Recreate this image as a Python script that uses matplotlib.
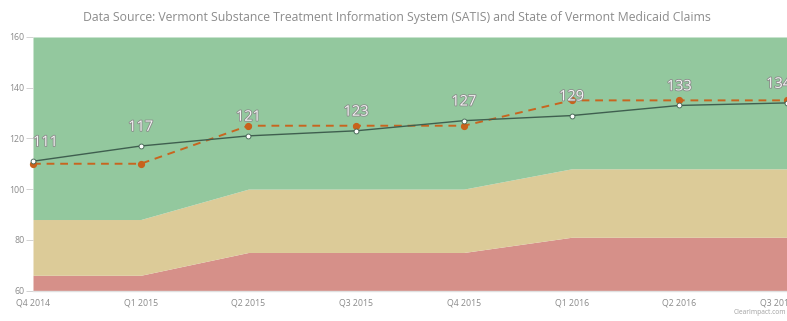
import matplotlib
matplotlib.use("Agg")
import matplotlib.pyplot as plt
import matplotlib.patheffects as pe
import matplotlib.transforms as mtransforms
import numpy as np

plt.rcParams['font.family'] = ['Open Sans', 'DejaVu Sans']

quarters = ["Q4 2014", "Q1 2015", "Q2 2015", "Q3 2015", "Q4 2015", "Q1 2016", "Q2 2016", "Q3 2016"]
actual = [111, 117, 121, 123, 127, 129, 133, 134]
target = [110, 110, 125, 125, 125, 135, 135, 135]
red_top = [66, 66, 75, 75, 75, 81, 81, 81]
yellow_top = [88, 88, 100, 100, 100, 108, 108, 108]
green_top = [160] * 8
y_ticks = [60, 80, 100, 120, 140, 160]
title = "Data Source: Vermont Substance Treatment Information System (SATIS) and State of Vermont Medicaid Claims"

W, H = 787, 321
fig = plt.figure(figsize=(W / 100, H / 100), dpi=100)
ax = fig.add_axes([33 / W, 1 - 290.5 / H, (787 - 33) / W, (290.5 - 37) / H])

x = np.arange(len(quarters))
base = [60] * len(quarters)
ax.fill_between(x, base, red_top, color="#d69089", lw=0)
ax.fill_between(x, red_top, yellow_top, color="#dccb98", lw=0)
ax.fill_between(x, yellow_top, green_top, color="#93c89e", lw=0)

ax.plot(x, target, color="#c8651f", lw=1.4, ls=(0, (4, 3)), marker="o", ms=4.2,
        mfc="#c8621c", mec="#c8621c", zorder=3, clip_on=False)
ax.plot(x, actual, color="#3f5f4f", lw=1.0, marker="o", ms=3.5,
        mfc="white", mec="#3f5f4f", mew=0.6, zorder=4, clip_on=False)

last = len(actual) - 1
for i, (xi, v) in enumerate(zip(x, actual)):
    dx = 9 if i == 0 else (-6 if i == last else 0)
    t = ax.annotate(str(v), (xi, v), xytext=(dx, 8), textcoords="offset points",
                    ha="center", va="bottom", fontsize=10.5, color="#f4f4f4",
                    clip_on=False, zorder=5)
    t.set_path_effects([pe.withStroke(linewidth=1.2, foreground="#8a8a8a")])

ax.set_xlim(0, len(quarters) - 1)
ax.set_ylim(60, 160)
ax.set_yticks(y_ticks)
ax.set_yticklabels([str(v) for v in y_ticks])
ax.set_xticks(x)
ax.set_xticklabels(quarters)
ax.tick_params(axis="y", length=5, width=0.6, color="#cccccc", labelsize=6.3,
               labelcolor="#8a8a8a", pad=1)
ax.tick_params(axis="x", length=0, labelsize=6.3, labelcolor="#8a8a8a", pad=6)
xlabels = ax.get_xticklabels()
for lbl in xlabels:
    lbl.set_clip_on(False)
shift = mtransforms.ScaledTranslation(-0.1, 0, fig.dpi_scale_trans)
xlabels[-1].set_transform(xlabels[-1].get_transform() + shift)

for s in ["top", "right", "left"]:
    ax.spines[s].set_visible(False)
ax.spines["bottom"].set_color("#e0e0e0")
ax.spines["bottom"].set_linewidth(1.0)

fig.text(397 / W, 1 - 17 / H, title, ha="center", va="center", fontsize=8.8,
         color="#8c8c8c")
fig.text(786 / W, 1 - 313 / H, "ClearImpact.com", ha="right", va="center",
         fontsize=4.8, color="#a0a0a0")

fig.savefig("out.png", dpi=100)
